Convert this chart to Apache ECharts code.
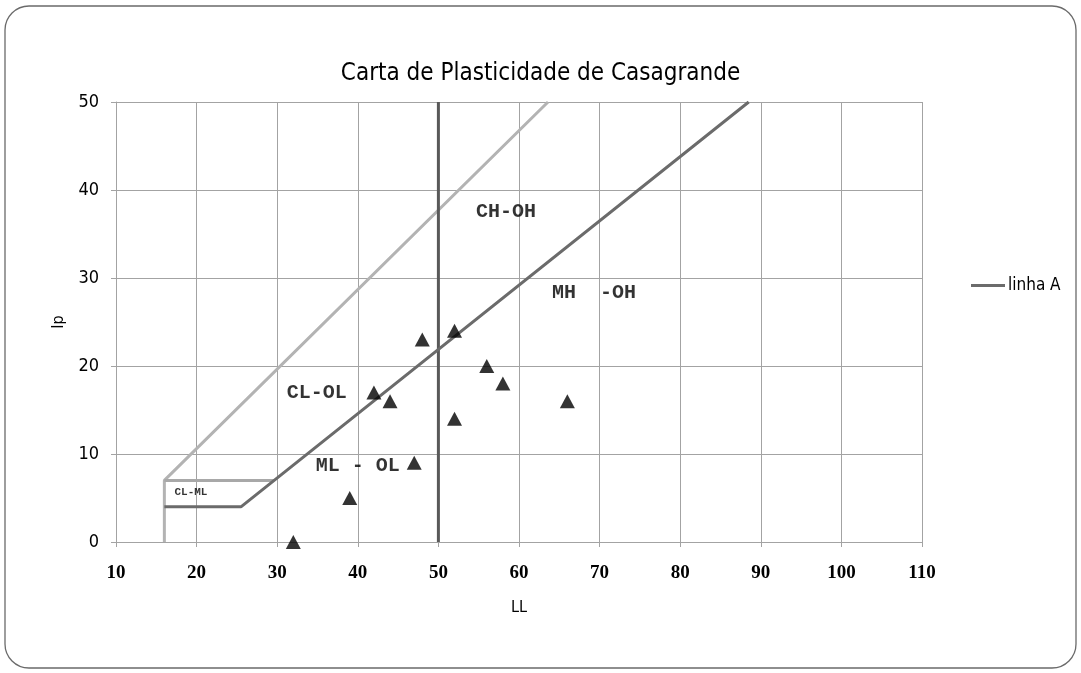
<!DOCTYPE html>
<html>
<head>
<meta charset="utf-8">
<script src="https://cdn.jsdelivr.net/npm/echarts@6/dist/echarts.min.js"></script>
<style>html,body{margin:0;padding:0;background:#fff}#c{width:1081px;height:673px}</style>
</head>
<body>
<div id="c"></div>
<script>
// Samples (LL, Ip)
const sampleLL = [32, 39, 42, 44, 47, 48, 52, 52, 56, 58, 66];
const sampleIp = [0, 5, 17, 16, 9, 23, 24, 14, 20, 18, 16];
// Linha A: Ip = 0.73 (LL - 20), with CL-ML lower limit at Ip = 4
const lineA_LL = [16, 25.5, 88.5];
const lineA_Ip = [4, 4, 50];
// Linha U: Ip = 0.9 (LL - 8), starting from LL = 16
const lineU_LL = [16, 16, 63.6];
const lineU_Ip = [0, 7, 50];
// CL-ML upper limit at Ip = 7
const boxTop_LL = [16, 29.6];
const boxTop_Ip = [7, 7];
// LL = 50 divider
const div_LL = [50, 50];
const div_Ip = [0, 50];
// Region labels
const zoneNames = ['CH-OH', 'MH  -OH', 'CL-OL', 'ML - OL', 'CL-ML'];
const zoneLL = [58.4, 69.3, 34.9, 40, 19.3];
const zoneIp = [37.5, 28.3, 16.9, 8.6, 5.6];
const xTicks = [10, 110, 10];
const yTicks = [0, 50, 10];

const zip = (a, b) => a.map((v, i) => [v, b[i]]);

const sansC = 'DejaVu Sans Condensed, Open Sans, sans-serif';
const chart = echarts.init(document.getElementById('c'));
const gridColor = '#a3a3a3';
chart.setOption({
  animation: false,
  backgroundColor: '#fff',
  graphic: [{
    type: 'rect', silent: true, z: -10,
    shape: { x: 5, y: 6, width: 1071, height: 662, r: 24 },
    style: { fill: 'none', stroke: '#6a6a6a', lineWidth: 1.3 }
  }],
  title: {
    text: 'Carta de Plasticidade de Casagrande',
    left: 'center', top: 57,
    textStyle: { fontFamily: sansC, fontSize: 24, fontWeight: 'normal', color: '#000' }
  },
  legend: {
    data: ['linha A'],
    left: 966, top: 272,
    icon: 'rect', itemWidth: 34, itemHeight: 3, itemGap: 4,
    textStyle: { fontFamily: sansC, fontSize: 17, color: '#000', padding: [0, 0, 0, -2] }
  },
  grid: { left: 116, right: 159, top: 102, bottom: 131 },
  xAxis: {
    type: 'value', min: xTicks[0], max: xTicks[1], interval: xTicks[2],
    name: 'LL', nameLocation: 'middle', nameGap: 58,
    nameTextStyle: { fontFamily: sansC, fontSize: 16, color: '#000' },
    axisLine: { onZero: false, lineStyle: { color: gridColor, width: 1 } },
    axisTick: { show: true, length: 5, lineStyle: { color: gridColor } },
    axisLabel: { margin: 22, color: '#000', fontFamily: 'Liberation Serif, serif', fontWeight: 'bold', fontSize: 19 },
    splitLine: { show: true, lineStyle: { color: gridColor, width: 1 } }
  },
  yAxis: {
    type: 'value', min: yTicks[0], max: yTicks[1], interval: yTicks[2],
    name: 'Ip', nameLocation: 'middle', nameGap: 49, nameRotate: 90,
    nameTextStyle: { fontFamily: sansC, fontSize: 16, color: '#000' },
    axisLine: { show: true, lineStyle: { color: gridColor, width: 1 } },
    axisTick: { show: true, length: 5, lineStyle: { color: gridColor } },
    axisLabel: { margin: 17, color: '#000', fontFamily: sansC, fontSize: 18 },
    splitLine: { show: true, lineStyle: { color: gridColor, width: 1 } }
  },
  series: [
    {
      name: 'linha U', type: 'line', data: zip(lineU_LL, lineU_Ip),
      symbol: 'none', lineStyle: { color: '#b3b3b3', width: 3 }, z: 2
    },
    {
      name: 'limite CL-ML', type: 'line', data: zip(boxTop_LL, boxTop_Ip),
      symbol: 'none', lineStyle: { color: '#a8a8a8', width: 3 }, z: 2
    },
    {
      name: 'LL 50', type: 'line', data: zip(div_LL, div_Ip),
      symbol: 'none', lineStyle: { color: '#595959', width: 3 }, z: 3
    },
    {
      name: 'linha A', type: 'line', data: zip(lineA_LL, lineA_Ip),
      symbol: 'none', lineStyle: { color: '#6b6b6b', width: 3 }, itemStyle: { color: '#6b6b6b' }, z: 4
    },
    {
      name: 'amostras', type: 'scatter', data: zip(sampleLL, sampleIp),
      symbol: 'triangle', symbolSize: [15, 14], itemStyle: { color: '#000' }, z: 6
    },
    {
      name: 'zonas', type: 'scatter', symbolSize: 0, silent: true, z: 5,
      data: zoneNames.map((n, i) => ({ name: n, value: [zoneLL[i], zoneIp[i]],
        label: i === 4 ? { fontSize: 11 } : {} })),
      label: {
        show: true, position: 'inside', formatter: p => p.name,
        fontFamily: 'Liberation Mono, monospace', fontWeight: 'bold', fontSize: 20, color: '#000'
      }
    }
  ]
});
</script>
</body>
</html>
